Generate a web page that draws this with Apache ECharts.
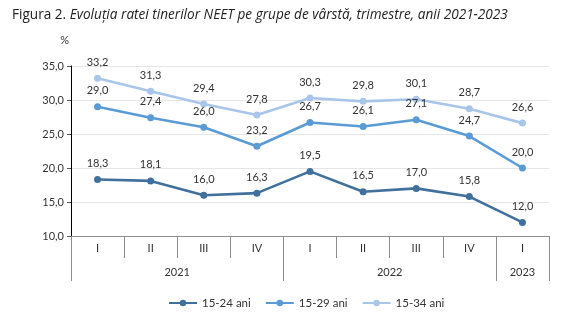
<!DOCTYPE html>
<html>
<head>
<meta charset="utf-8">
<script src="https://cdn.jsdelivr.net/npm/echarts@6/dist/echarts.min.js"></script>
<style>
  html, body { margin: 0; padding: 0; background: #fff; }
  #chart { width: 586px; height: 322px; }
</style>
</head>
<body>
<div id="chart"></div>
<script>
// Quarters on the x axis and the years they belong to
const quarters = ['I', 'II', 'III', 'IV', 'I', 'II', 'III', 'IV', 'I'];
const years = ['2021', '2022', '2023'];
const yearBounds = [0, 4, 8, 9];     // category boundaries between years
const yearCenters = [2, 6, 8.5];     // where each year label sits

// NEET rate (%) by age group
const seriesNames = ['15-24 ani', '15-29 ani', '15-34 ani'];
const neet1524 = [18.3, 18.1, 16.0, 16.3, 19.5, 16.5, 17.0, 15.8, 12.0];
const neet1529 = [29.0, 27.4, 26.0, 23.2, 26.7, 26.1, 27.1, 24.7, 20.0];
const neet1534 = [33.2, 31.3, 29.4, 27.8, 30.3, 29.8, 30.1, 28.7, 26.6];

// Y axis ticks
const yMin = 10, yMax = 35, yStep = 5;

const colors = ['#41709c', '#5b9bd5', '#a9c6ea'];
const font = 'Lato, "Open Sans", sans-serif';
const titleFont = '"Open Sans", Lato, sans-serif';
const fmt = v => v.toFixed(1).replace('.', ',');

const chart = echarts.init(document.getElementById('chart'), null, { renderer: 'canvas' });

function lineSeries(name, data, color) {
  return {
    name: name,
    type: 'line',
    data: data,
    xAxisIndex: 0,
    yAxisIndex: 0,
    color: color,
    symbol: 'circle',
    symbolSize: 7,
    lineStyle: { width: 2.6, color: color },
    itemStyle: { color: color },
    label: {
      show: true,
      position: 'top',
      distance: 7,
      color: '#333',
      fontSize: 11,
      fontFamily: font,
      formatter: p => fmt(p.value)
    },
    emphasis: { disabled: true },
    animation: false
  };
}

chart.setOption({
  animation: false,
  textStyle: { fontFamily: font },
  title: {
    left: 7,
    top: 3,
    text: '{a|Figura 2. }{b|Evoluția ratei tinerilor NEET pe grupe de vârstă, trimestre, anii 2021-2023}',
    textStyle: {
      fontWeight: 'normal',
      rich: {
        a: { fontSize: 13.6, fontFamily: titleFont, color: '#222', fontWeight: 'normal' },
        b: { fontSize: 13.6, fontFamily: titleFont, color: '#222', fontWeight: 'normal', fontStyle: 'italic' }
      }
    }
  },
  grid: { left: 71, right: 37, top: 66, bottom: 86, containLabel: false },
  legend: {
    bottom: 8,
    left: 163,
    itemWidth: 28,
    itemHeight: 8,
    itemGap: 14,
    textStyle: { fontSize: 11.5, color: '#333', fontFamily: font },
    data: seriesNames
  },
  xAxis: [
    {
      type: 'category',
      data: quarters,
      boundaryGap: true,
      axisLine: { show: true, lineStyle: { color: '#8c8c8c', width: 1 } },
      axisTick: { show: true, length: 22, lineStyle: { color: '#8c8c8c' } },
      axisLabel: { margin: 7, fontSize: 11, color: '#333', fontFamily: font },
      splitLine: { show: false }
    },
    {
      type: 'value',
      min: 0,
      max: quarters.length,
      position: 'bottom',
      axisLine: { show: false },
      axisTick: {
        show: true,
        length: 45,
        customValues: yearBounds,
        lineStyle: { color: '#8c8c8c' }
      },
      axisLabel: {
        show: true,
        margin: 31,
        fontSize: 11,
        color: '#333',
        fontFamily: font,
        customValues: yearCenters,
        formatter: v => years[yearCenters.indexOf(v)] || ''
      },
      splitLine: { show: false }
    }
  ],
  yAxis: {
    type: 'value',
    min: yMin,
    max: yMax,
    interval: yStep,
    name: '%',
    nameGap: 20,
    nameTextStyle: { fontSize: 11, color: '#333', fontFamily: font, align: 'right', padding: [0, 2, 0, 0] },
    axisLine: { show: true, lineStyle: { color: '#000', width: 1 } },
    axisTick: { show: true, length: 4, lineStyle: { color: '#555' } },
    axisLabel: { margin: 7, fontSize: 11, color: '#333', fontFamily: font, formatter: v => fmt(v) },
    splitLine: { show: true, lineStyle: { color: '#e6e6e6', width: 1 } }
  },
  series: [
    lineSeries(seriesNames[0], neet1524, colors[0]),
    lineSeries(seriesNames[1], neet1529, colors[1]),
    lineSeries(seriesNames[2], neet1534, colors[2])
  ]
});
</script>
</body>
</html>
